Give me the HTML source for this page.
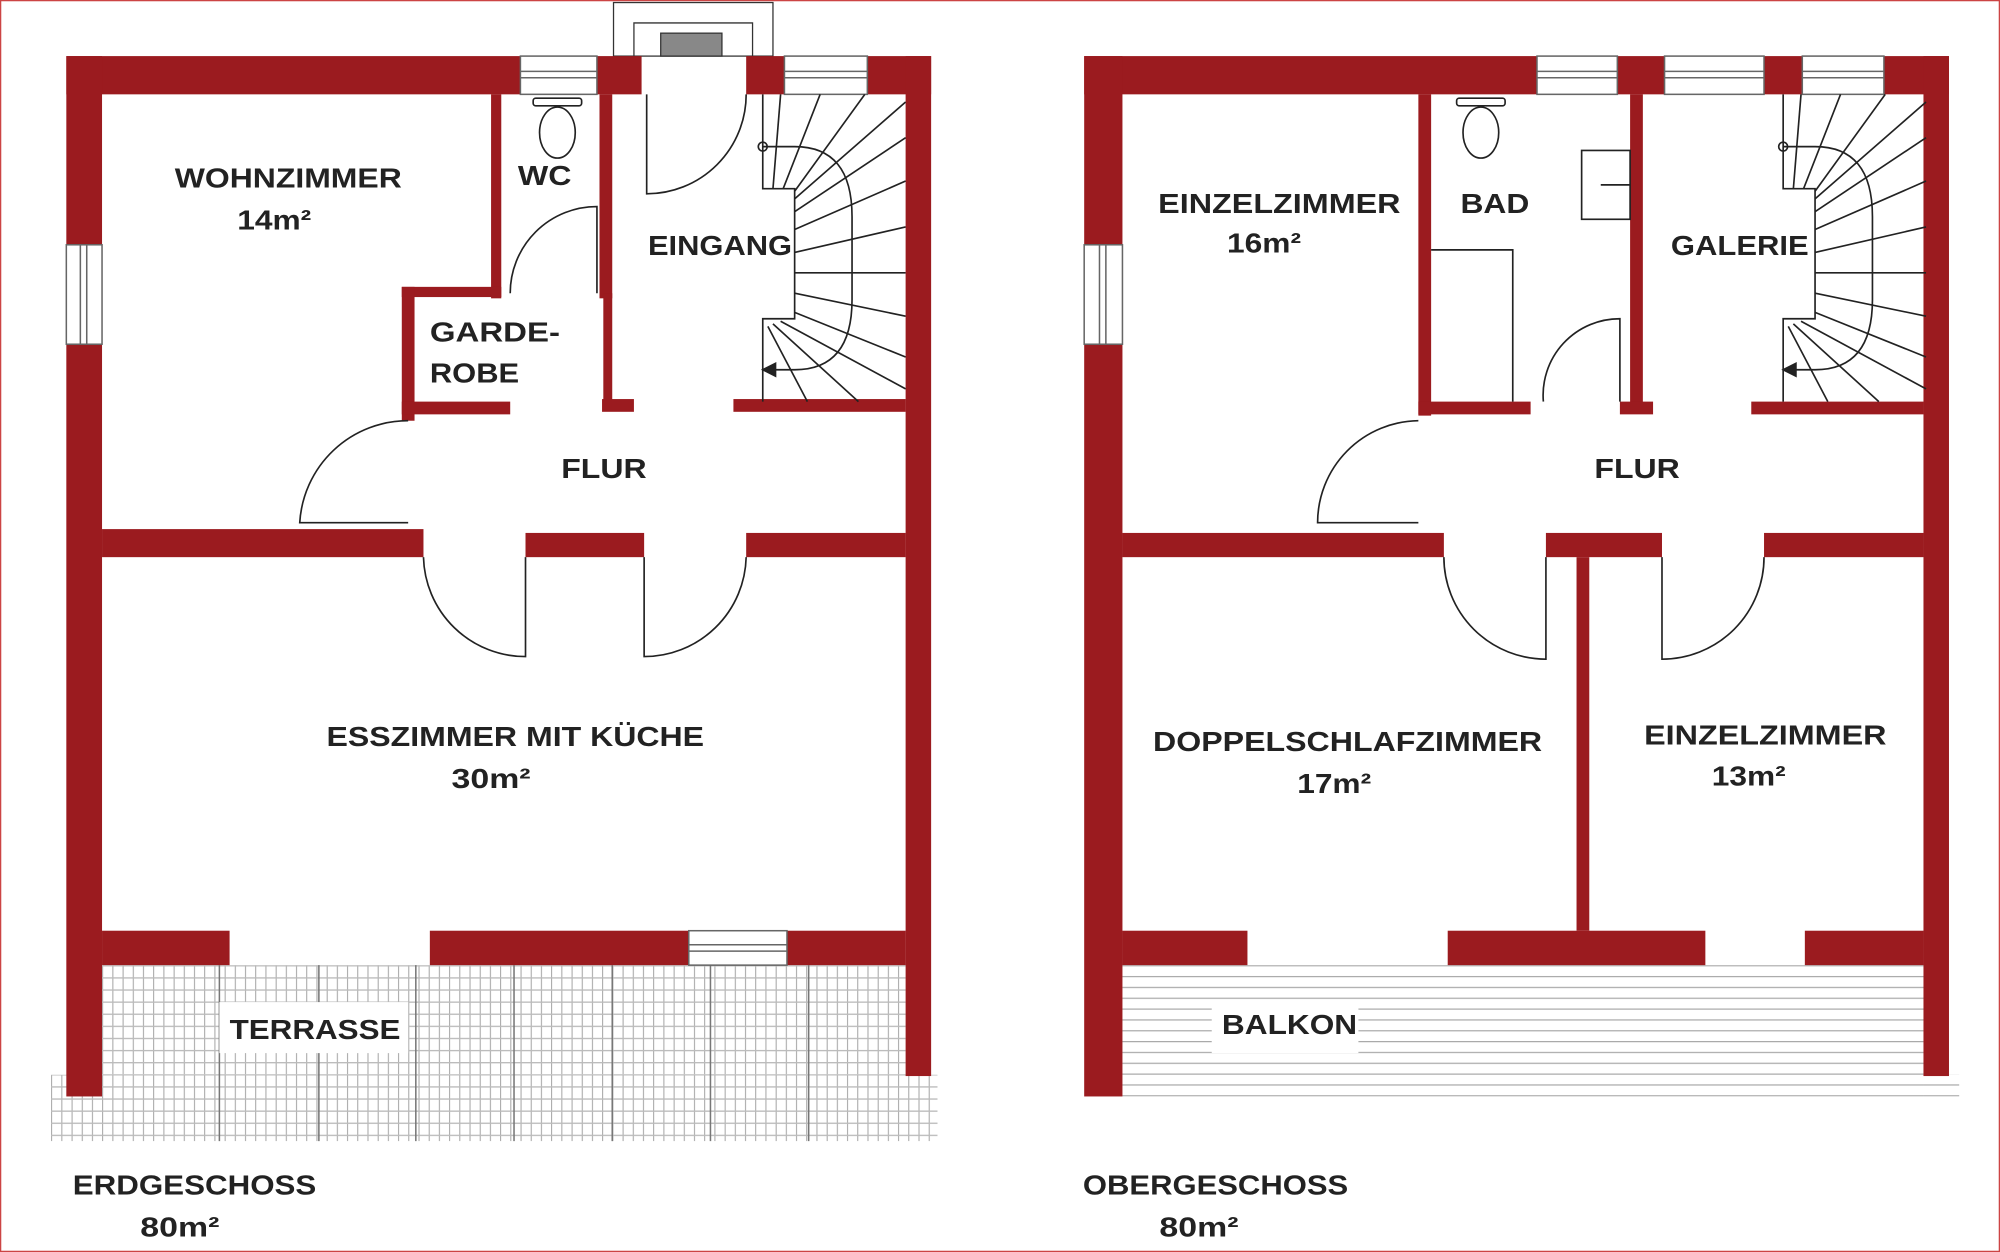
<!DOCTYPE html>
<html><head><meta charset="utf-8"><style>
html,body{margin:0;padding:0;background:#fff;}
svg{display:block;}
text{font-family:"Liberation Sans",sans-serif;font-weight:bold;fill:#222;font-size:22px;}
</style></head><body>
<svg width="2000" height="1252" viewBox="0 0 1568 982" preserveAspectRatio="none" xmlns="http://www.w3.org/2000/svg">
<defs>
<pattern id="grid" x="80" y="757" width="8" height="9.5" patternUnits="userSpaceOnUse">
<rect width="8" height="9.5" fill="#fff"/>
<line x1="0.5" y1="0" x2="0.5" y2="9.5" stroke="#999" stroke-width="0.7"/>
<line x1="0" y1="0.5" x2="8" y2="0.5" stroke="#bbb" stroke-width="1.1"/>
</pattern>
<pattern id="bal" x="880" y="757" width="20" height="8.5" patternUnits="userSpaceOnUse">
<rect width="20" height="8.5" fill="#fff"/>
<line x1="0" y1="0.5" x2="20" y2="0.5" stroke="#aaa" stroke-width="1"/>
</pattern>
<g id="stair" fill="none" stroke="#222" stroke-width="1.3">
<path d="M0,74 L0,148 L25,148 L25,250 L0,250 L0,315"/>
<path d="M0,115 L25,115 Q70,115 70,170 L70,235 Q70,290 25,290 L0,290"/>
<circle cx="0" cy="115" r="3.5"/>
<polygon points="0,290 10,285 10,295" fill="#222"/>
<line x1="8" y1="148" x2="14" y2="74"/>
<line x1="16" y1="148" x2="45" y2="74"/>
<line x1="25" y1="150" x2="80" y2="74"/>
<line x1="25" y1="156" x2="112" y2="80"/>
<line x1="25" y1="166" x2="112" y2="108"/>
<line x1="25" y1="180" x2="112" y2="142"/>
<line x1="25" y1="198" x2="112" y2="178"/>
<line x1="25" y1="214" x2="112" y2="214"/>
<line x1="25" y1="230" x2="112" y2="248"/>
<line x1="25" y1="245" x2="112" y2="280"/>
<line x1="14" y1="252" x2="112" y2="305"/>
<line x1="8" y1="254" x2="75" y2="315"/>
<line x1="4" y1="256" x2="35" y2="315"/>
</g>
</defs>
<rect x="0.5" y="0.5" width="1567" height="981" fill="#fff" stroke="#c44" stroke-width="1"/>

<!-- ================= LEFT PLAN ================= -->
<rect x="80" y="757" width="630" height="86" fill="url(#grid)"/>
<rect x="40" y="843" width="695" height="52" fill="url(#grid)"/>
<g stroke="#777" stroke-width="1.2">
<line x1="172" y1="757" x2="172" y2="895"/><line x1="250" y1="757" x2="250" y2="895"/>
<line x1="326" y1="757" x2="326" y2="895"/><line x1="403" y1="757" x2="403" y2="895"/>
<line x1="480" y1="757" x2="480" y2="895"/><line x1="557" y1="757" x2="557" y2="895"/>
<line x1="634" y1="757" x2="634" y2="895"/>
</g>
<rect x="172" y="786" width="148" height="40" fill="#fff"/>

<rect x="481" y="2" width="125" height="42" fill="#fff" stroke="#333" stroke-width="1"/>
<path d="M497,44 L497,18 L590,18 L590,44" fill="none" stroke="#333" stroke-width="1"/>
<rect x="518" y="26" width="48" height="18" fill="#888" stroke="#333" stroke-width="1"/>

<g fill="#9b1b1f">
<rect x="52" y="44" width="356" height="30"/>
<rect x="468" y="44" width="35" height="30"/>
<rect x="585" y="44" width="30" height="30"/>
<rect x="680" y="44" width="50" height="30"/>
<rect x="52" y="44" width="28" height="148"/>
<rect x="52" y="270" width="28" height="590"/>
<rect x="710" y="44" width="20" height="800"/>
<rect x="385" y="74" width="8" height="160"/>
<rect x="315" y="225" width="78" height="8"/>
<rect x="315" y="225" width="10" height="105"/>
<rect x="315" y="315" width="85" height="10"/>
<rect x="470" y="74" width="10" height="160"/>
<rect x="473" y="230" width="7" height="90"/>
<rect x="472" y="313" width="25" height="10"/>
<rect x="575" y="313" width="135" height="10"/>
<rect x="80" y="415" width="252" height="22"/>
<rect x="412" y="418" width="93" height="19"/>
<rect x="585" y="418" width="125" height="19"/>
<rect x="80" y="730" width="100" height="27"/>
<rect x="337" y="730" width="203" height="27"/>
<rect x="617" y="730" width="93" height="27"/>
</g>
<g stroke="#666" stroke-width="1.2" fill="#fff">
<rect x="408" y="44" width="60" height="30"/><line x1="408" y1="56" x2="468" y2="56"/><line x1="408" y1="61" x2="468" y2="61"/>
<rect x="615" y="44" width="65" height="30"/><line x1="615" y1="56" x2="680" y2="56"/><line x1="615" y1="61" x2="680" y2="61"/>
<rect x="540" y="730" width="77" height="27"/><line x1="540" y1="741" x2="617" y2="741"/><line x1="540" y1="746" x2="617" y2="746"/>
<rect x="52" y="192" width="28" height="78"/><line x1="63" y1="192" x2="63" y2="270"/><line x1="68" y1="192" x2="68" y2="270"/>
</g>
<g fill="none" stroke="#222" stroke-width="1.3">
<rect x="418" y="77" width="38" height="6" rx="2"/>
<ellipse cx="437" cy="104" rx="14" ry="20"/>
<path d="M507,74 L507,152 A78,78 0 0 0 585,74"/>
<path d="M468,230 L468,162 A68,68 0 0 0 400,230"/>
<path d="M320,410 L235,410 A85,85 0 0 1 320,330"/>
<path d="M412,437 L412,515 A80,80 0 0 1 332,437"/>
<path d="M505,437 L505,515 A80,80 0 0 0 585,437"/>
</g>
<use href="#stair" x="598" y="0"/>

<!-- ================= RIGHT PLAN ================= -->
<rect x="880" y="757" width="628" height="103" fill="url(#bal)"/>
<rect x="1508" y="843" width="28" height="17" fill="url(#bal)"/>
<rect x="950" y="786" width="115" height="40" fill="#fff"/>
<g fill="#9b1b1f">
<rect x="850" y="44" width="355" height="30"/>
<rect x="1268" y="44" width="37" height="30"/>
<rect x="1383" y="44" width="30" height="30"/>
<rect x="1477" y="44" width="51" height="30"/>
<rect x="850" y="44" width="30" height="148"/>
<rect x="850" y="270" width="30" height="590"/>
<rect x="1508" y="44" width="20" height="800"/>
<rect x="1112" y="74" width="10" height="252"/>
<rect x="1112" y="315" width="88" height="10"/>
<rect x="1278" y="74" width="10" height="250"/>
<rect x="1270" y="315" width="26" height="10"/>
<rect x="1373" y="315" width="135" height="10"/>
<rect x="880" y="418" width="252" height="19"/>
<rect x="1212" y="418" width="91" height="19"/>
<rect x="1236" y="437" width="10" height="293"/>
<rect x="1383" y="418" width="125" height="19"/>
<rect x="880" y="730" width="98" height="27"/>
<rect x="1135" y="730" width="202" height="27"/>
<rect x="1415" y="730" width="93" height="27"/>
</g>
<g stroke="#666" stroke-width="1.2" fill="#fff">
<rect x="1205" y="44" width="63" height="30"/><line x1="1205" y1="56" x2="1268" y2="56"/><line x1="1205" y1="61" x2="1268" y2="61"/>
<rect x="1305" y="44" width="78" height="30"/><line x1="1305" y1="56" x2="1383" y2="56"/><line x1="1305" y1="61" x2="1383" y2="61"/>
<rect x="1413" y="44" width="64" height="30"/><line x1="1413" y1="56" x2="1477" y2="56"/><line x1="1413" y1="61" x2="1477" y2="61"/>
<rect x="850" y="192" width="30" height="78"/><line x1="862" y1="192" x2="862" y2="270"/><line x1="867" y1="192" x2="867" y2="270"/>
</g>
<g fill="none" stroke="#222" stroke-width="1.3">
<rect x="1142" y="77" width="38" height="6" rx="2"/>
<ellipse cx="1161" cy="104" rx="14" ry="20"/>
<rect x="1240" y="118" width="38" height="54"/>
<line x1="1255" y1="145" x2="1278" y2="145"/>
<path d="M1122,196 L1186,196 L1186,315"/>
<path d="M1270,315 L1270,250 A60,60 0 0 0 1210,315"/>
<path d="M1112,410 L1033,410 A80,80 0 0 1 1112,330"/>
<path d="M1212,437 L1212,517 A80,80 0 0 1 1132,437"/>
<path d="M1303,437 L1303,517 A80,80 0 0 0 1383,437"/>
</g>
<use href="#stair" x="1398" y="0"/>

<!-- ================= LABELS ================= -->
<text x="137" y="147" textLength="178" lengthAdjust="spacingAndGlyphs">WOHNZIMMER</text>
<text x="186" y="180" textLength="58" lengthAdjust="spacingAndGlyphs">14m²</text>
<text x="406" y="145" textLength="42" lengthAdjust="spacingAndGlyphs">WC</text>
<text x="508" y="200" textLength="113" lengthAdjust="spacingAndGlyphs">EINGANG</text>
<text x="337" y="268" textLength="102" lengthAdjust="spacingAndGlyphs">GARDE-</text>
<text x="337" y="300" textLength="70" lengthAdjust="spacingAndGlyphs">ROBE</text>
<text x="440" y="375" textLength="67" lengthAdjust="spacingAndGlyphs">FLUR</text>
<text x="256" y="585" textLength="296" lengthAdjust="spacingAndGlyphs">ESSZIMMER MIT KÜCHE</text>
<text x="354" y="618" textLength="62" lengthAdjust="spacingAndGlyphs">30m²</text>
<text x="180" y="815" textLength="134" lengthAdjust="spacingAndGlyphs">TERRASSE</text>
<text x="57" y="937" textLength="191" lengthAdjust="spacingAndGlyphs">ERDGESCHOSS</text>
<text x="110" y="970" textLength="62" lengthAdjust="spacingAndGlyphs">80m²</text>

<text x="908" y="167" textLength="190" lengthAdjust="spacingAndGlyphs">EINZELZIMMER</text>
<text x="962" y="198" textLength="58" lengthAdjust="spacingAndGlyphs">16m²</text>
<text x="1145" y="167" textLength="54" lengthAdjust="spacingAndGlyphs">BAD</text>
<text x="1310" y="200" textLength="108" lengthAdjust="spacingAndGlyphs">GALERIE</text>
<text x="1250" y="375" textLength="67" lengthAdjust="spacingAndGlyphs">FLUR</text>
<text x="904" y="589" textLength="305" lengthAdjust="spacingAndGlyphs">DOPPELSCHLAFZIMMER</text>
<text x="1017" y="622" textLength="58" lengthAdjust="spacingAndGlyphs">17m²</text>
<text x="1289" y="584" textLength="190" lengthAdjust="spacingAndGlyphs">EINZELZIMMER</text>
<text x="1342" y="616" textLength="58" lengthAdjust="spacingAndGlyphs">13m²</text>
<text x="958" y="811" textLength="106" lengthAdjust="spacingAndGlyphs">BALKON</text>
<text x="849" y="937" textLength="208" lengthAdjust="spacingAndGlyphs">OBERGESCHOSS</text>
<text x="909" y="970" textLength="62" lengthAdjust="spacingAndGlyphs">80m²</text>
</svg>
</body></html>
